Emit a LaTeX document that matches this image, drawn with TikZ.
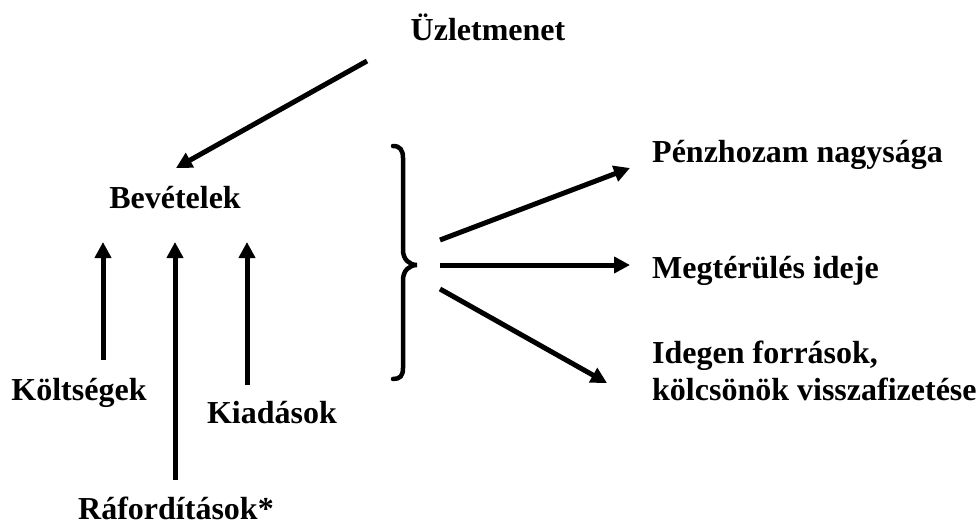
\documentclass[tikz,border=0pt]{standalone}
\usepackage{fontspec}
\setmainfont{Liberation Serif}
\usetikzlibrary{arrows.meta}
\begin{document}
\begin{tikzpicture}[x=1pt,y=-1pt,
  label/.style={inner sep=0pt,font=\fontsize{32}{37}\selectfont\bfseries},
  flow/.style={line width=5pt,-{Triangle[length=16pt,width=16pt]}},
  bracepath/.style={line width=4.5pt,line cap=round}]
  \useasboundingbox (0,0) rectangle (978,525);

  % labels
  \node[label,anchor=base] (uzlet) at (488,40) {Üzletmenet};
  \node[label,anchor=base] (bevet) at (175,208) {Bevételek};
  \node[label,anchor=base] (kolts) at (79,400) {Költségek};
  \node[label,anchor=base] (kiad) at (272,423) {Kiadások};
  \node[label,anchor=base] (rafor) at (176,519) {Ráfordítások*};
  \node[label,anchor=base west] (penz) at (652,162) {Pénzhozam nagysága};
  \node[label,anchor=base west] (megt) at (652,278) {Megtérülés ideje};
  \node[label,anchor=base west,align=left] (ideg) at (652,400)
    {Idegen források,\\kölcsönök visszafizetése};

  % connector ends
  \coordinate (uzStart) at (367,61);
  \coordinate (bevTip) at (176,168);
  \coordinate (kStart) at (103,360);
  \coordinate (kTip) at (103,242);
  \coordinate (rStart) at (175,480);
  \coordinate (rTip) at (175,242);
  \coordinate (dStart) at (247,385);
  \coordinate (dTip) at (247,242);
  \coordinate (b1) at (440,240);
  \coordinate (b1Tip) at (630,168);
  \coordinate (b2) at (440,265);
  \coordinate (b2Tip) at (630,265);
  \coordinate (b3) at (440,289);
  \coordinate (b3Tip) at (607,383);

  % arrows
  \draw[flow] (uzStart) -- (bevTip);
  \draw[flow] (kStart) -- (kTip);
  \draw[flow] (rStart) -- (rTip);
  \draw[flow] (dStart) -- (dTip);
  \draw[flow] (b1) -- (b1Tip);
  \draw[flow] (b2) -- (b2Tip);
  \draw[flow] (b3) -- (b3Tip);

  % curly brace
  \draw[bracepath] (393,146) .. controls (400,146) and (403,150) .. (403,158)
    -- (403,250) .. controls (403,259) and (409,265) .. (417,265)
    .. controls (409,265) and (403,271) .. (403,280)
    -- (403,368) .. controls (403,376) and (400,379) .. (393,379);
\end{tikzpicture}
\end{document}
